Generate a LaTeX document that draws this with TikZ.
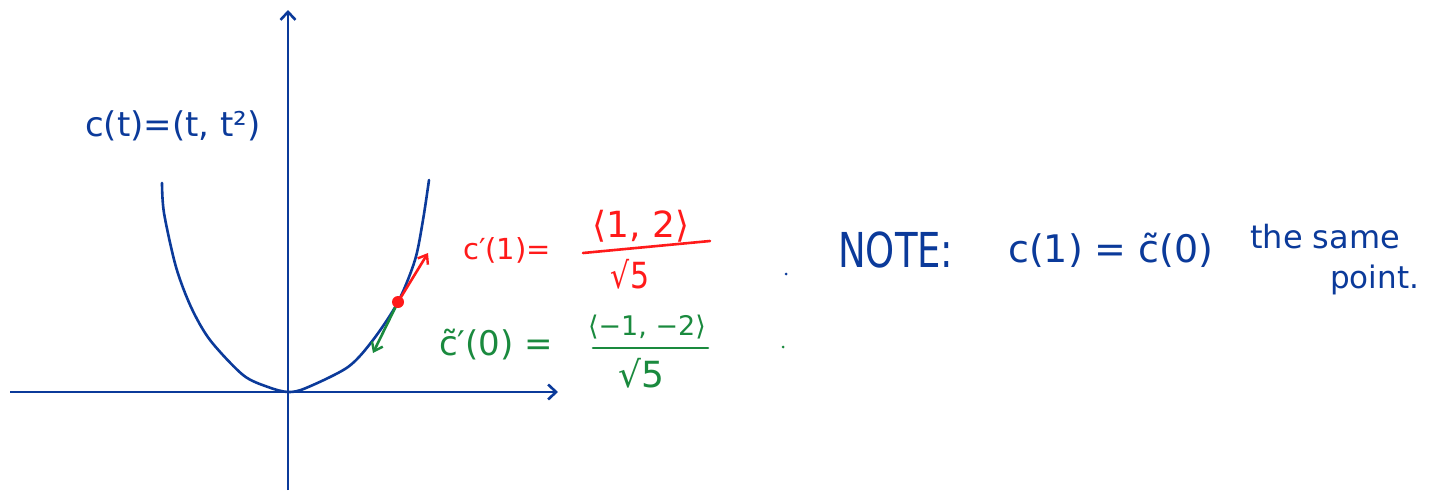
\documentclass[tikz,border=0pt]{standalone}
\usepackage{fontspec}
\usepackage{graphicx}
\setmainfont{DejaVu Sans}
\usetikzlibrary{arrows.meta}
\definecolor{ink}{HTML}{0B3A9A}
\definecolor{inkred}{HTML}{FF1A1A}
\definecolor{inkgreen}{HTML}{1A8A3E}
\newcommand{\fs}[1]{\fontsize{#1}{#1}\selectfont}
\begin{document}
\begin{tikzpicture}[x=1pt,y=-1pt,
  axis/.style={draw=ink,line width=2.8pt,-{Straight Barb[length=8pt,width=15pt,line width=2.6pt]}},
  curve/.style={draw=ink,line width=2.6pt,line cap=round,line join=round},
  lbl/.style={inner sep=0pt},
  bar/.style={line width=2.6pt,line cap=round},
  vec/.style={line width=2.6pt,-{Straight Barb[length=8pt,width=12pt,line width=2.4pt]}},
]
\useasboundingbox (0,0) rectangle (1432,493);
\fill[white] (0,0) rectangle (1432,493);
% axes
\coordinate (xs) at (10,392); \coordinate (xe) at (558,392);
\coordinate (ys) at (288,490); \coordinate (ye) at (288,10);
\draw[axis] (xs) -- (xe);
\draw[axis] (ys) -- (ye);
% curve
\draw[curve] plot[smooth] coordinates {(162,183) (164,213) (176,267) (191,307) (210,340) (243,375) (268,387) (288,392) (306,388) (348,367) (373,340) (398,302) (415,260) (423,220) (429,180)};
% tangent vectors
\coordinate (P) at (398,302);
\coordinate (R) at (428,253);
\coordinate (G) at (373,353);
\draw[vec,inkgreen] (P) -- (G);
\draw[vec,inkred] (P) -- (R);
\node[circle,fill=inkred,inner sep=0pt,minimum size=12pt] (dot) at (P) {};
% labels
\node[lbl,text=ink,font=\fs{34}] (ct) at (173,126) {c(t)=(t, t²)};
\node[lbl,text=inkred,font=\fs{29}] (rl) at (507,250) {c′(1)=};
\node[lbl,text=inkred,font=\fs{36}] (rn) at (641,226) {⟨1, 2⟩};
\coordinate (rb1) at (583,253); \coordinate (rb2) at (710,241);
\draw[bar,inkred] (rb1) -- (rb2);
\node[lbl,text=inkred,font=\fs{30}] (rd) at (630,274) {\scalebox{1}[1.2]{√5}};
\node[lbl,text=inkgreen,font=\fs{34}] (gl) at (496,345) {\~c′(0) =};
\node[lbl,text=inkgreen,font=\fs{27}] (gn) at (647,327) {⟨−1, −2⟩};
\coordinate (gb1) at (593,348); \coordinate (gb2) at (708,348);
\draw[bar,inkgreen] (gb1) -- (gb2);
\node[lbl,text=inkgreen,font=\fs{36}] (gd) at (641,373) {√5};
\node[circle,fill=ink,inner sep=0pt,minimum size=3pt] (d1) at (786,274) {};
\node[circle,fill=inkgreen,inner sep=0pt,minimum size=3pt] (d2) at (783,347) {};
% note
\node[lbl,text=ink,anchor=west,font=\fs{37}] (note) at (838,250) {\scalebox{1}[1.3]{NOTE:}};
\node[lbl,text=ink,anchor=west,font=\fs{38}] (eq) at (1008,250) {c(1) = \~c(0)};
\node[lbl,text=ink,anchor=west,font=\fs{32}] (same) at (1250,237) {the same};
\node[lbl,text=ink,anchor=west,font=\fs{31}] (pt) at (1330,280) {point.};
\end{tikzpicture}
\end{document}
